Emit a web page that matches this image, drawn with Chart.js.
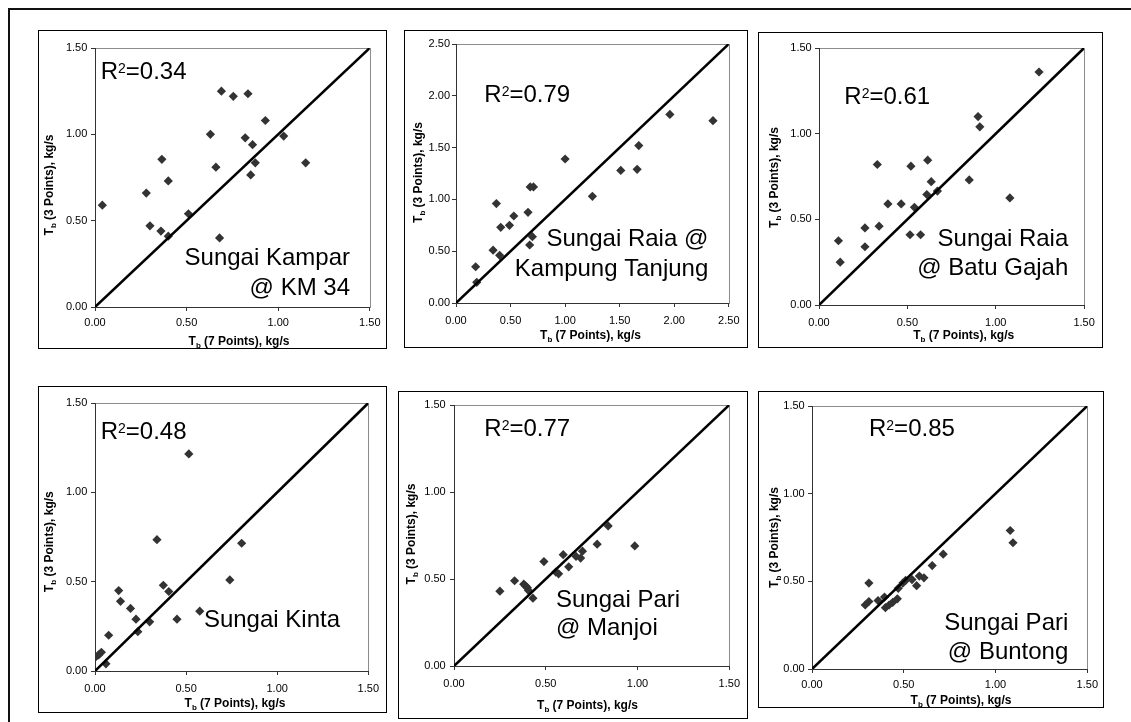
<!DOCTYPE html>
<html>
<head>
<meta charset="utf-8">
<script src="https://cdn.jsdelivr.net/npm/chart.js@4.4.0/dist/chart.umd.min.js"></script>
<style>
  body { margin: 0; background: #fff; width: 1131px; height: 722px; overflow: hidden; position: relative; }
  #frame { position: absolute; left: 8px; top: 8px; width: 1300px; height: 900px; border-top: 2px solid #111; border-left: 2px solid #111; }
  .panel { position: absolute; box-sizing: border-box; border: 1px solid #000; background: #fff; }
  .panel canvas { position: absolute; left: 0; top: 0; }
</style>
</head>
<body>
<div id="frame"></div>
<script>
// Tb from 7 points (x) against Tb from 3 points (y), kg/s
const kamparX = [0.04, 0.28, 0.30, 0.365, 0.36, 0.40, 0.40, 0.51, 0.63, 0.66, 0.69, 0.68, 0.755, 0.835, 0.82, 0.86, 0.875, 0.85, 0.93, 1.03, 1.15];
const kamparY = [0.59, 0.66, 0.47, 0.855, 0.44, 0.73, 0.41, 0.54, 1.00, 0.81, 1.25, 0.40, 1.22, 1.235, 0.98, 0.94, 0.835, 0.765, 1.08, 0.99, 0.835];

const tanjungX = [0.18, 0.19, 0.34, 0.37, 0.41, 0.40, 0.49, 0.53, 0.66, 0.68, 0.71, 0.70, 0.675, 1.00, 1.25, 1.51, 1.66, 1.675, 1.96, 2.355];
const tanjungY = [0.35, 0.20, 0.51, 0.96, 0.73, 0.46, 0.75, 0.84, 0.875, 1.12, 1.12, 0.64, 0.56, 1.39, 1.03, 1.28, 1.29, 1.52, 1.82, 1.76];

const gajahX = [0.11, 0.12, 0.26, 0.26, 0.33, 0.34, 0.39, 0.465, 0.515, 0.52, 0.54, 0.575, 0.61, 0.615, 0.635, 0.67, 0.85, 0.90, 0.91, 1.08, 1.245];
const gajahY = [0.375, 0.25, 0.45, 0.34, 0.82, 0.46, 0.59, 0.59, 0.41, 0.81, 0.57, 0.41, 0.645, 0.845, 0.72, 0.665, 0.73, 1.10, 1.04, 0.625, 1.36];

const kintaX = [0.005, 0.02, 0.035, 0.06, 0.075, 0.13, 0.14, 0.195, 0.225, 0.235, 0.30, 0.34, 0.375, 0.405, 0.45, 0.515, 0.575, 0.74, 0.805];
const kintaY = [0.08, 0.09, 0.105, 0.04, 0.20, 0.45, 0.39, 0.35, 0.29, 0.22, 0.275, 0.735, 0.48, 0.445, 0.29, 1.215, 0.335, 0.51, 0.715];

const manjoiX = [0.25, 0.33, 0.38, 0.39, 0.40, 0.405, 0.43, 0.49, 0.555, 0.57, 0.595, 0.625, 0.665, 0.69, 0.70, 0.78, 0.84, 0.985];
const manjoiY = [0.43, 0.49, 0.47, 0.46, 0.45, 0.435, 0.39, 0.60, 0.54, 0.53, 0.64, 0.57, 0.63, 0.62, 0.66, 0.70, 0.805, 0.69];

const buntongX = [0.31, 0.29, 0.31, 0.36, 0.395, 0.40, 0.42, 0.44, 0.465, 0.47, 0.495, 0.51, 0.545, 0.57, 0.585, 0.61, 0.655, 0.715, 1.08, 1.095];
const buntongY = [0.49, 0.365, 0.385, 0.39, 0.41, 0.35, 0.365, 0.38, 0.40, 0.46, 0.49, 0.505, 0.51, 0.475, 0.53, 0.52, 0.59, 0.655, 0.79, 0.72];

const ticks15 = [0, 0.5, 1.0, 1.5];
const ticks25 = [0, 0.5, 1.0, 1.5, 2.0, 2.5];
const line15 = [0, 1.5];   // 1:1 line ends
const line25 = [0, 2.5];

const r2Values = ['0.34', '0.79', '0.61', '0.48', '0.77', '0.85'];
const siteNames = [
  ['Sungai Kampar', '@ KM 34'],
  ['Sungai Raia @', 'Kampung Tanjung'],
  ['Sungai Raia', '@ Batu Gajah'],
  ['Sungai Kinta'],
  ['Sungai Pari', '@ Manjoi'],
  ['Sungai Pari', '@ Buntong']
];

const FONT = '"Liberation Sans", Arial, sans-serif';

// page geometry of the panels (box, plot area, text anchors)
const layout = [
  { box: [38, 30, 386, 348], plot: [95, 48, 372, 307], xPad: 5.5, yPad: 3.7, xTitle: [239, 345], yTitle: [52.7, 185],
    r2: [100.7, 79], site: [350, 265], lh: 30, align: 'right' },
  { box: [404, 30, 747, 347], plot: [456, 44, 733, 303], xPad: 7.5, yPad: 2, xTitle: [590.5, 339.3], yTitle: [421.7, 172.5],
    r2: [484.3, 101.7], site: [708.3, 246], lh: 29.5, align: 'right' },
  { box: [758, 32, 1102, 347], plot: [819, 48, 1088, 305], xPad: 7.2, yPad: 3.3, xTitle: [963.7, 339.3], yTitle: [778.3, 177.5],
    r2: [844.3, 104], site: [1068.3, 246], lh: 29, align: 'right' },
  { box: [38, 386, 386, 712], plot: [95, 403, 373, 671], xPad: 7, yPad: 3.7, xTitle: [235, 707.3], yTitle: [53.3, 541.7],
    r2: [100.7, 439], site: [340, 626.7], lh: 29, align: 'right' },
  { box: [398, 391, 747, 718], plot: [454, 405, 733, 666], xPad: 7, yPad: 4.3, xTitle: [587.5, 709], yTitle: [415, 534],
    r2: [484.3, 435.7], site: [556, 606.7], lh: 28.5, align: 'left' },
  { box: [758, 391, 1103, 707], plot: [812, 406, 1088, 669], xPad: 5, yPad: 3.3, xTitle: [961, 704], yTitle: [778, 537.5],
    r2: [869, 435.7], site: [1068.3, 630], lh: 29, align: 'right' }
];

const series = [
  [kamparX, kamparY, ticks15, line15],
  [tanjungX, tanjungY, ticks25, line25],
  [gajahX, gajahY, ticks15, line15],
  [kintaX, kintaY, ticks15, line15],
  [manjoiX, manjoiY, ticks15, line15],
  [buntongX, buntongY, ticks15, line15]
];

// grey plot-area frame behind the axes
const plotFrame = {
  id: 'plotFrame',
  beforeDraw(chart) {
    const a = chart.chartArea, ctx = chart.ctx;
    ctx.save();
    ctx.strokeStyle = '#8c8c8c';
    ctx.lineWidth = 1;
    ctx.strokeRect(Math.round(a.left) + 0.5, Math.round(a.top) + 0.5, Math.round(a.right - a.left), Math.round(a.bottom - a.top));
    ctx.restore();
  }
};

// axis title "Tb (n Points), kg/s" with subscript b, centred on (0,0)
function drawTbTitle(ctx, rest) {
  const big = 'bold 12px ' + FONT, small = 'bold 8px ' + FONT;
  ctx.font = big;
  const wT = ctx.measureText('T').width;
  const wRest = ctx.measureText(rest).width;
  ctx.font = small;
  const wb = ctx.measureText('b').width;
  let x = -(wT + wb + wRest) / 2;
  ctx.textAlign = 'left';
  ctx.textBaseline = 'alphabetic';
  ctx.font = big;
  ctx.fillText('T', x, 0);
  x += wT;
  ctx.font = small;
  ctx.fillText('b', x, 3);
  x += wb;
  ctx.font = big;
  ctx.fillText(rest, x, 0);
}

const panelText = {
  id: 'panelText',
  afterDraw(chart, args, o) {
    const ctx = chart.ctx;
    const ox = o.ox, oy = o.oy;
    ctx.save();
    ctx.fillStyle = '#000';
    ctx.textBaseline = 'alphabetic';

    // R squared
    let px = o.r2[0] - ox;
    const py = o.r2[1] - oy;
    ctx.textAlign = 'left';
    ctx.font = '24px ' + FONT;
    ctx.fillText('R', px, py);
    px += ctx.measureText('R').width;
    ctx.font = '14px ' + FONT;
    ctx.fillText('2', px, py - 6);
    px += ctx.measureText('2').width;
    ctx.font = '24px ' + FONT;
    ctx.fillText('=' + o.r2Text, px, py);

    // site name
    ctx.textAlign = o.align;
    o.site.forEach((s, i) => ctx.fillText(s, o.siteAt[0] - ox, o.siteAt[1] - oy + i * o.lh));

    // axis titles
    ctx.save();
    ctx.translate(o.xTitle[0] - ox, o.xTitle[1] - oy);
    drawTbTitle(ctx, ' (7 Points), kg/s');
    ctx.restore();

    ctx.save();
    ctx.translate(o.yTitle[0] - ox, o.yTitle[1] - oy);
    ctx.rotate(-Math.PI / 2);
    drawTbTitle(ctx, ' (3 Points), kg/s');
    ctx.restore();

    ctx.restore();
  }
};

Chart.defaults.font.family = FONT;
Chart.defaults.font.size = 11;
Chart.defaults.color = '#000';

layout.forEach((p, i) => {
  const [xs, ys, tickVals, lineEnds] = series[i];
  const div = document.createElement('div');
  div.className = 'panel';
  const w = p.box[2] - p.box[0] + 1, h = p.box[3] - p.box[1] + 1;
  div.style.left = p.box[0] + 'px';
  div.style.top = p.box[1] + 'px';
  div.style.width = w + 'px';
  div.style.height = h + 'px';
  const canvas = document.createElement('canvas');
  const cw = w - 2, ch = h - 2;
  canvas.width = cw;
  canvas.height = ch;
  canvas.style.width = cw + 'px';
  canvas.style.height = ch + 'px';
  div.appendChild(canvas);
  document.body.appendChild(div);

  const ox = p.box[0] + 1, oy = p.box[1] + 1;
  const maxV = tickVals[tickVals.length - 1];

  const axisCommon = {
    type: 'linear',
    min: 0,
    max: maxV,
    afterBuildTicks: s => { s.ticks = tickVals.map(v => ({ value: v })); },
    grid: { display: true, drawOnChartArea: false, drawTicks: true, tickLength: 4, color: '#333' },
    border: { display: true, color: '#333', width: 1 }
  };

  new Chart(canvas, {
    type: 'scatter',
    data: {
      datasets: [
        {
          data: lineEnds.map(v => ({ x: v, y: v })),
          showLine: true,
          borderColor: '#000',
          borderWidth: 2.6,
          pointRadius: 0
        },
        {
          data: xs.map((x, k) => ({ x: x, y: ys[k] })),
          pointStyle: 'rectRot',
          pointRadius: 4.6,
          backgroundColor: '#333',
          borderColor: '#333',
          borderWidth: 0
        }
      ]
    },
    options: {
      responsive: false,
      animation: false,
      devicePixelRatio: 1,
      layout: { padding: { top: p.plot[1] - oy, right: ox + cw - p.plot[2], left: 0, bottom: 0 } },
      plugins: {
        legend: { display: false },
        tooltip: { enabled: false },
        panelText: {
          ox: ox, oy: oy,
          r2: p.r2, r2Text: r2Values[i],
          site: siteNames[i], siteAt: p.site, lh: p.lh, align: p.align,
          xTitle: p.xTitle, yTitle: p.yTitle
        }
      },
      scales: {
        x: Object.assign({}, axisCommon, {
          position: 'bottom',
          ticks: { padding: p.xPad, maxRotation: 0, autoSkip: false, callback: v => v.toFixed(2) },
          afterFit: s => { s.height = oy + ch - p.plot[3]; }
        }),
        y: Object.assign({}, axisCommon, {
          position: 'left',
          ticks: { padding: p.yPad, autoSkip: false, callback: v => v.toFixed(2) },
          afterFit: s => { s.width = p.plot[0] - ox; }
        })
      }
    },
    plugins: [plotFrame, panelText]
  });
});
</script>
</body>
</html>
